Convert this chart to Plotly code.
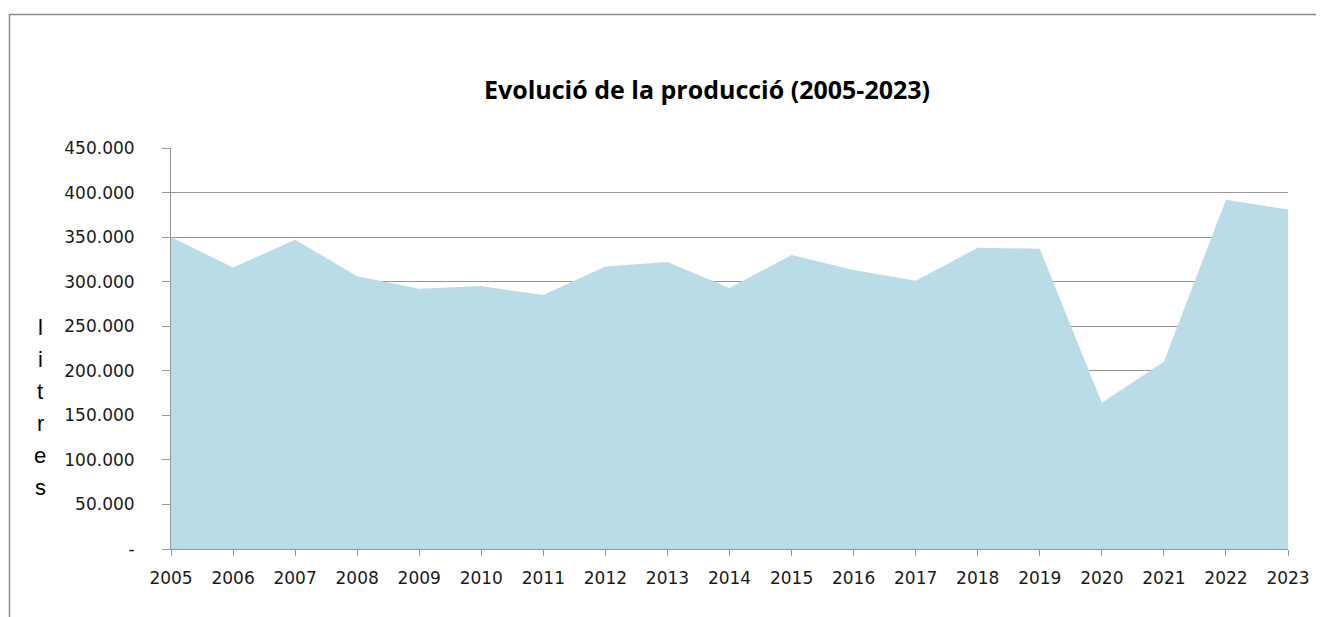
import plotly.graph_objects as go

# ── Data ──────────────────────────────────────────────────────────────────────
YEARS = list(range(2005, 2024))
LITRES = [350000, 316000, 347000, 306000, 292000, 295000, 285000, 317000, 322000, 293000,
          330000, 313000, 301000, 338000, 337000, 164000, 210000, 392000, 381000]
Y_TICKS = [0, 50000, 100000, 150000, 200000, 250000, 300000, 350000, 400000, 450000]
Y_TICK_TEXT = ["-", "50.000", "100.000", "150.000", "200.000", "250.000",
               "300.000", "350.000", "400.000", "450.000"]

TITLE = "Evolució de la producció (2005-2023)"
Y_TITLE = "litres"

# ── Palette ───────────────────────────────────────────────────────────────────
FILL = "#b8dde7"
GRID = "#959595"
TEXT = "#1a1a1a"

# page body has an 8px margin, so the figure is sized/placed to compensate
W, H = 1316, 609

fig = go.Figure(go.Scatter(
    x=YEARS, y=LITRES,
    mode="lines",
    line=dict(width=0, color=FILL),
    fill="tozeroy",
    fillcolor=FILL,
    hoverinfo="x+y",
))

fig.update_layout(
    width=W, height=H,
    paper_bgcolor="white", plot_bgcolor="white",
    margin=dict(l=163, r=36, t=140, b=68),
    font=dict(family="DejaVu Sans, sans-serif", color=TEXT, size=17),
    showlegend=False,
    title=dict(text=f"<b>{TITLE}</b>",
               font=dict(family="Open Sans, sans-serif", size=25, color="black"),
               x=699 / W, xanchor="center", y=1 - 82 / H, yanchor="middle"),
)

fig.update_xaxes(
    range=[2005, 2023], tickvals=YEARS, showgrid=False, zeroline=False,
    showline=True, linecolor=GRID, linewidth=1,
    ticks="outside", ticklen=6, tickcolor=GRID, ticklabelstandoff=8,
)
fig.update_yaxes(
    range=[0, 450000], tickvals=Y_TICKS, ticktext=Y_TICK_TEXT,
    showgrid=True, gridcolor=GRID, gridwidth=1, zeroline=False,
    showline=True, linecolor=GRID, linewidth=1,
    ticks="outside", ticklen=8, tickcolor=GRID, ticklabelstandoff=24,
)

# vertical stacked axis title
for i, ch in enumerate(Y_TITLE):
    fig.add_annotation(
        text=ch, xref="paper", yref="paper", showarrow=False,
        x=(40 - 171) / 1117, y=(549 - (327 + i * 32)) / 401,
        xanchor="center", yanchor="middle",
        font=dict(family="Liberation Sans, Arial, sans-serif", size=22, color="black"),
    )

# outer frame (clipped by page edges on right/bottom)
fig.add_shape(type="rect", xref="paper", yref="paper",
              x0=(9.5 - 171) / 1117, x1=(1340 - 171) / 1117,
              y0=(549 - 640) / 401, y1=(549 - 14.5) / 401,
              line=dict(color="#8c8c8c", width=1.5), layer="below")

fig.write_html("out.html")
